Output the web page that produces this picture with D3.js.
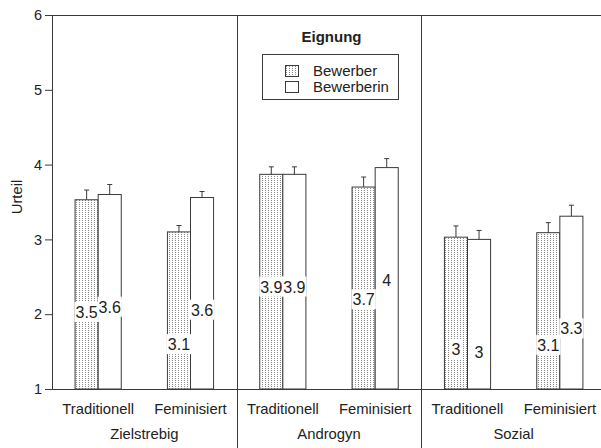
<!DOCTYPE html>
<html>
<head>
<meta charset="utf-8">
<script src="https://cdn.jsdelivr.net/npm/d3@7/dist/d3.min.js"></script>
<style>
  html, body { margin: 0; padding: 0; background: #fff; }
  svg { display: block; font-family: "Liberation Sans", Arial, Helvetica, sans-serif; }
</style>
</head>
<body>
<svg id="chart" width="601" height="448"></svg>
<script>
// Stimulus types (outer groups) and wording condition (inner categories)
const groups = ["Zielstrebig", "Androgyn", "Sozial"];
const conditions = ["Traditionell", "Feminisiert"];
const seriesNames = ["Bewerber", "Bewerberin"];

// Mean ratings per group x condition, in the order above
const bewerber   = [3.53, 3.10, 3.87, 3.70, 3.03, 3.09];
const bewerberin = [3.60, 3.56, 3.87, 3.96, 3.00, 3.31];

// Standard errors
const bewerberErr   = [0.13, 0.086, 0.10, 0.134, 0.15, 0.134];
const bewerberinErr = [0.134, 0.08, 0.10, 0.12, 0.12, 0.147];

const yTicks = [1, 2, 3, 4, 5, 6];

(function draw() {
  const svg = d3.select("#chart");
  const W = 601, H = 448;
  const plotLeft = 52, plotTop = 15, plotBottom = 389, xEnd = 606;
  const ink = "#3a3a3a";

  // Dotted fill used for the Bewerber bars
  const defs = svg.append("defs");
  const pat = defs.append("pattern")
    .attr("id", "dots").attr("patternUnits", "userSpaceOnUse")
    .attr("width", 3).attr("height", 2);
  pat.append("rect").attr("width", 3).attr("height", 2).attr("fill", "#fff");
  pat.append("rect").attr("x", 1).attr("y", 0).attr("width", 1).attr("height", 1).attr("fill", "#8a8a8a");

  const cells = [];
  groups.forEach((g, gi) => conditions.forEach((c, ci) => cells.push({ key: g + "|" + c, group: g, cond: c, i: gi * 2 + ci })));

  const x = d3.scaleBand().domain(cells.map(d => d.key)).range([plotLeft, xEnd]).padding(0);
  const bw = x.bandwidth();
  const xs = d3.scaleBand().domain(seriesNames).range([bw * 0.25, bw * 0.75]).padding(0);
  const y = d3.scaleLinear().domain([1, 6]).range([plotBottom, plotTop]);

  const bars = [];
  cells.forEach(d => {
    bars.push({ cell: d, s: "Bewerber", v: bewerber[d.i], e: bewerberErr[d.i] });
    bars.push({ cell: d, s: "Bewerberin", v: bewerberin[d.i], e: bewerberinErr[d.i] });
  });

  // Y axis
  const yAxis = svg.append("g").attr("transform", `translate(${plotLeft},0)`)
    .call(d3.axisLeft(y).tickValues(yTicks).tickFormat(d3.format("d")).tickSize(7).tickPadding(3));
  yAxis.select(".domain").attr("stroke", ink);
  yAxis.selectAll(".tick line").attr("stroke", ink);
  yAxis.selectAll(".tick text").attr("font-size", 14.5).attr("fill", "#222")
    .attr("font-family", "Liberation Sans, Arial, sans-serif");

  // Top frame line and baseline
  svg.append("line").attr("x1", plotLeft).attr("x2", W).attr("y1", y(6) + 0.5).attr("y2", y(6) + 0.5).attr("stroke", ink);
  svg.append("line").attr("x1", plotLeft).attr("x2", W).attr("y1", y(1) + 0.5).attr("y2", y(1) + 0.5).attr("stroke", ink);

  // Group separators
  groups.slice(1).forEach(g => {
    const sx = Math.round(x(g + "|" + conditions[0])) + 0.5;
    svg.append("line").attr("x1", sx).attr("x2", sx).attr("y1", y(6)).attr("y2", H).attr("stroke", ink);
  });

  // Bars
  svg.append("g").selectAll("rect").data(bars).join("rect")
    .attr("x", d => x(d.cell.key) + xs(d.s))
    .attr("y", d => y(d.v))
    .attr("width", xs.bandwidth())
    .attr("height", d => y(1) - y(d.v))
    .attr("fill", d => d.s === "Bewerber" ? "url(#dots)" : "#fff")
    .attr("stroke", ink).attr("stroke-width", 1);

  // Error bars (upper whisker only)
  const errG = svg.append("g").attr("stroke", ink).attr("stroke-width", 1);
  bars.forEach(d => {
    const cx = x(d.cell.key) + xs(d.s) + xs.bandwidth() / 2;
    errG.append("line").attr("x1", cx).attr("x2", cx).attr("y1", y(d.v)).attr("y2", y(d.v + d.e));
    errG.append("line").attr("x1", cx - 2.5).attr("x2", cx + 2.5).attr("y1", y(d.v + d.e)).attr("y2", y(d.v + d.e));
  });

  // Value labels on white boxes
  const fmt = d3.format(".2~g");
  const labelDrop = 1.5;
  const labG = svg.append("g");
  bars.forEach(d => {
    const cx = x(d.cell.key) + xs(d.s) + xs.bandwidth() / 2;
    const cy = y(d.v - labelDrop);
    const g = labG.append("g");
    const t = g.append("text").attr("x", cx).attr("y", cy + 6)
      .attr("text-anchor", "middle").attr("font-size", 16).attr("fill", "#222")
      .text(fmt(d.v));
    const bb = t.node().getBBox();
    g.insert("rect", "text").attr("x", bb.x - 1).attr("y", cy - 10)
      .attr("width", bb.width + 2).attr("height", 20).attr("fill", "#fff");
  });

  // Category labels
  cells.forEach(d => {
    svg.append("text").attr("x", x(d.key) + bw / 2).attr("y", 414)
      .attr("text-anchor", "middle").attr("font-size", 14.8).attr("fill", "#222").text(d.cond);
  });
  groups.forEach(g => {
    const gx = (x(g + "|" + conditions[0]) + x(g + "|" + conditions[1]) + bw) / 2;
    svg.append("text").attr("x", gx).attr("y", 439)
      .attr("text-anchor", "middle").attr("font-size", 14.8).attr("fill", "#222").text(g);
  });

  // Y axis title
  svg.append("text").attr("transform", "translate(22,197) rotate(-90)")
    .attr("text-anchor", "middle").attr("font-size", 14.8).attr("fill", "#222").text("Urteil");

  // Legend
  svg.append("text").attr("x", 331.5).attr("y", 42).attr("text-anchor", "middle")
    .attr("font-size", 15).attr("font-weight", "bold").attr("fill", "#222").text("Eignung");
  svg.append("rect").attr("x", 262.5).attr("y", 54.5).attr("width", 136).attr("height", 45)
    .attr("fill", "#fff").attr("stroke", ink);
  seriesNames.forEach((s, i) => {
    const ly = 65.5 + i * 16;
    svg.append("rect").attr("x", 285.5).attr("y", ly).attr("width", 13).attr("height", 11)
      .attr("fill", s === "Bewerber" ? "url(#dots)" : "#fff").attr("stroke", ink);
    svg.append("text").attr("x", 313).attr("y", ly + 10.5).attr("font-size", 15).attr("fill", "#222").text(s);
  });
})();
</script>
</body>
</html>
